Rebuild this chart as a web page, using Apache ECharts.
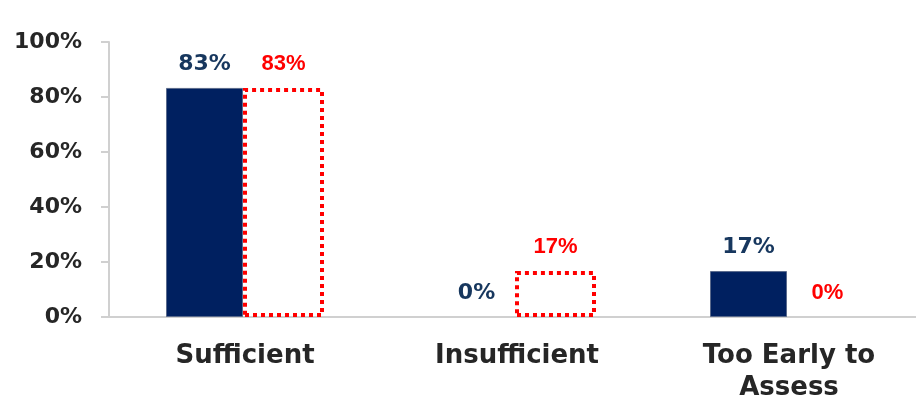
<!DOCTYPE html>
<html>
<head>
<meta charset="utf-8">
<script src="https://cdn.jsdelivr.net/npm/echarts@6/dist/echarts.min.js"></script>
<style>
  html, body { margin: 0; padding: 0; background: #fff; overflow: hidden; }
  #chart { width: 935px; height: 409px; }
</style>
</head>
<body>
<div id="chart"></div>
<script>
// 图表数据
const categories = ['Sufficient', 'Insufficient', 'Too Early to\nAssess'];
const currentValues = [83.3, 0, 16.7];
const priorValues = [83.3, 16.7, 0];
const yTicks = [0, 20, 40, 60, 80, 100];

const chart = echarts.init(document.getElementById('chart'));

// 值为0的柱子不画边框
const noBorderAtZero = arr => arr.map(v => (v === 0 ? { value: v, itemStyle: { borderWidth: 0 } } : v));

const option = {
  animation: false,
  grid: {
    left: 109,
    top: 42,
    width: 816,
    height: 275,
  },
  xAxis: {
    type: 'category',
    data: categories,
    axisTick: { show: false },
    axisLine: { lineStyle: { color: '#d0d0d0', width: 2 } },
    axisLabel: {
      color: '#262626',
      fontFamily: 'DejaVu Sans',
      fontWeight: 'bold',
      fontSize: 26,
      lineHeight: 32,
      margin: 23,
      interval: 0,
    },
  },
  yAxis: {
    type: 'value',
    min: yTicks[0],
    max: yTicks[yTicks.length - 1],
    interval: 20,
    splitLine: { show: false },
    axisLine: { show: true, lineStyle: { color: '#d0d0d0', width: 2 } },
    axisTick: { show: true, length: 8, lineStyle: { color: '#d0d0d0', width: 2 } },
    axisLabel: {
      color: '#262626',
      fontFamily: 'DejaVu Sans',
      fontWeight: 'bold',
      fontSize: 22,
      margin: 27,
      formatter: v => v + '%',
    },
  },
  series: [
    {
      name: 'Current',
      type: 'bar',
      barWidth: 77,
      barGap: '0%',
      data: noBorderAtZero(currentValues),
      itemStyle: { color: '#002060', borderColor: '#5a6a8c', borderWidth: 1 },
      label: {
        show: true,
        position: 'top',
        distance: 13,
        color: '#17375e',
        fontFamily: 'DejaVu Sans',
        fontWeight: 'bold',
        fontSize: 22,
        formatter: p => Math.round(p.value) + '%',
      },
    },
    {
      name: 'Prior',
      type: 'bar',
      barWidth: 81,
      barGap: '0%',
      data: noBorderAtZero(priorValues),
      itemStyle: {
        color: 'rgba(255,255,255,0)',
        borderColor: '#ff0000',
        borderWidth: 4,
        borderType: [4, 4],
      },
      label: {
        show: true,
        position: 'top',
        distance: 13,
        color: '#ff0000',
        fontFamily: 'Liberation Sans',
        fontWeight: 'bold',
        fontSize: 22,
        formatter: p => Math.round(p.value) + '%',
      },
    },
  ],
};

chart.setOption(option);
</script>
</body>
</html>
